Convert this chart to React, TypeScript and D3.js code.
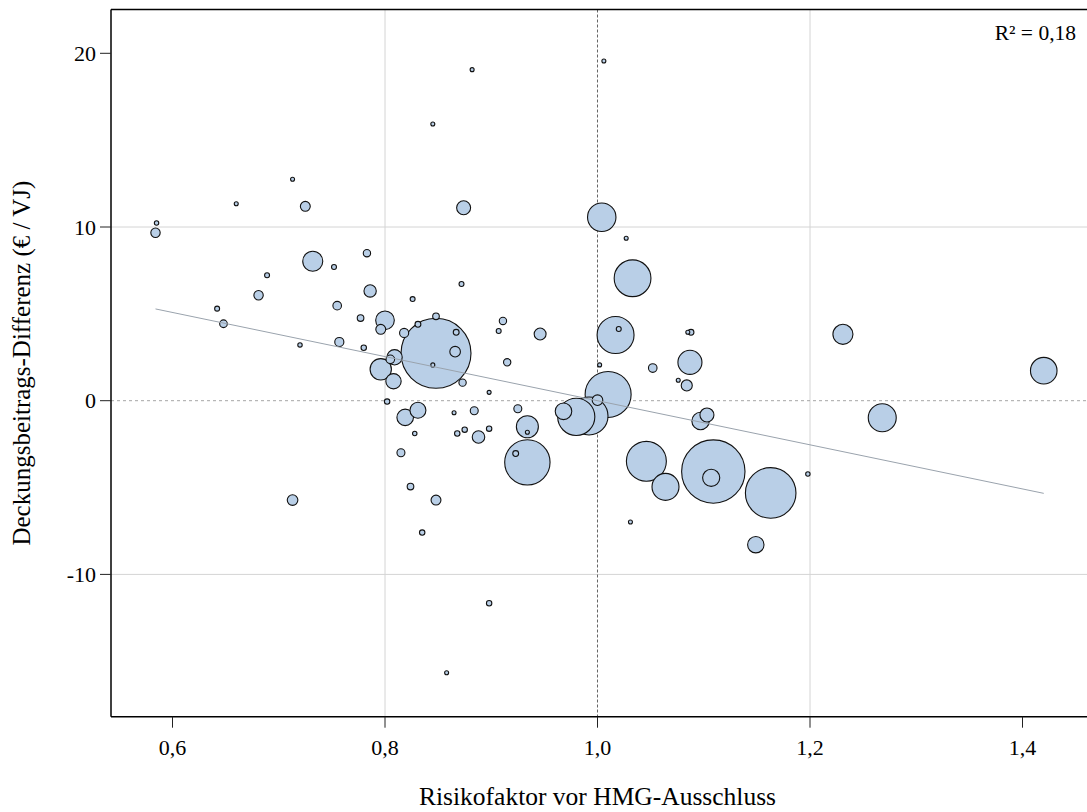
import * as d3 from 'd3'

// Risikofaktor vor HMG-Ausschluss (x), Deckungsbeitrags-Differenz €/VJ (y), bubble weight
const riskFactor = [
  0.882, 0.845, 1.006, 0.713, 0.660, 0.725, 0.874, 0.585, 0.584, 1.004,
  1.027, 1.033, 0.732, 0.783, 0.752, 0.689, 0.681, 0.786, 0.872, 0.826,
  0.642, 0.755, 0.777, 0.800, 0.796, 0.848, 0.831, 0.818, 0.848, 0.867,
  0.866, 0.845, 0.911, 0.907, 0.946, 0.915, 0.648, 0.720, 0.757, 0.780,
  0.809, 0.805, 0.796, 0.808, 0.873, 0.898, 0.802, 0.819, 0.831, 0.865,
  0.884, 0.925, 0.934, 0.934, 0.934, 0.923, 0.828, 0.868, 0.875, 0.898,
  0.888, 0.815, 0.824, 0.848, 0.835, 0.713, 0.898, 0.858, 1.017, 1.020,
  1.085, 1.088, 1.087, 1.052, 1.002, 1.076, 1.084, 1.010, 1.000, 0.968,
  0.980, 0.992, 1.046, 1.064, 1.109, 1.107, 1.163, 1.097, 1.103, 1.198,
  1.031, 1.149, 1.231, 1.268, 1.420,
]

const dbDiff = [
  19.06, 15.93, 19.56, 12.75, 11.34, 11.19, 11.11, 10.23, 9.67, 10.56,
  9.35, 7.05, 8.03, 8.49, 7.70, 7.22, 6.07, 6.32, 6.72, 5.85,
  5.30, 5.47, 4.76, 4.63, 4.11, 4.86, 4.40, 3.90, 2.73, 3.94,
  2.82, 2.06, 4.59, 4.01, 3.84, 2.21, 4.43, 3.21, 3.38, 3.05,
  2.50, 2.38, 1.81, 1.12, 1.04, 0.48, -0.05, -0.96, -0.55, -0.69,
  -0.58, -0.46, -1.50, -1.82, -3.55, -3.04, -1.89, -1.89, -1.67, -1.61,
  -2.09, -3.00, -4.94, -5.72, -7.59, -5.72, -11.66, -15.66, 3.78, 4.13,
  3.94, 3.94, 2.21, 1.88, 2.06, 1.18, 0.88, 0.36, 0.03, -0.61,
  -0.93, -0.88, -3.49, -4.96, -4.08, -4.44, -5.31, -1.17, -0.82, -4.22,
  -6.98, -8.29, 3.82, -0.98, 1.73,
]

const weight = [
  3, 3, 3, 3, 3, 20, 40, 4, 18, 165,
  3, 276, 82, 11, 5, 5, 18, 31, 5, 5,
  5, 15, 9, 71, 20, 9, 7, 17, 1000, 7,
  23, 3, 11, 5, 29, 11, 12, 4, 17, 6,
  48, 15, 93, 48, 11, 3, 6, 56, 52, 3,
  13, 13, 99, 3, 420, 7, 4, 6, 6, 6,
  32, 13, 9, 20, 6, 23, 6, 3, 279, 5,
  3, 7, 118, 15, 3, 3, 25, 432, 23, 56,
  282, 295, 326, 149, 820, 60, 522, 62, 40, 4,
  3, 55, 82, 160, 144,
]

const xTicks = [0.6, 0.8, 1.0, 1.2, 1.4]
const yTicks = [20, 10, 0, -10]
const xGrid = [0.8, 1.2]
const yGrid = [10, -10]

// fitted line y = a + b*x
const trendIntercept = 12.7
const trendSlope = -12.7
const rSquared = '0,18'

const fmt = (v: number) => v.toFixed(1).replace('.', ',')

export default function App() {
  const width = 1087
  const height = 812
  const plot = { left: 111, top: 9.5, right: 1087, bottom: 716.7 }

  const x = d3.scaleLinear().domain([0.6, 1.4]).range([172.5, 1022.5])
  const y = d3.scaleLinear().domain([-10, 20]).range([574.4, 53.3])
  const r = d3.scaleSqrt().domain([0, 1000]).range([0, 35])

  const points = riskFactor
    .map((rf, i) => ({ rf, db: dbDiff[i], w: weight[i] }))
    .sort((a, b) => b.w - a.w)

  const xs = d3.extent(riskFactor) as [number, number]
  const trend = d3.line<number>()
    .x(v => x(v))
    .y(v => y(trendIntercept + trendSlope * v))

  const font = '"Liberation Serif", "Times New Roman", serif'

  return (
    <svg
      width={width}
      height={height}
      style={{ position: 'absolute', left: 0, top: 0, background: '#fff' }}
      fontFamily={font}
    >
      <defs>
        <clipPath id="plotClip">
          <rect x={plot.left} y={plot.top} width={plot.right - plot.left} height={plot.bottom - plot.top} />
        </clipPath>
      </defs>

      {/* grid */}
      {xGrid.map(v => (
        <line key={'gx' + v} x1={x(v)} x2={x(v)} y1={plot.top} y2={plot.bottom} stroke="#d4d4d4" strokeWidth={1} />
      ))}
      {yGrid.map(v => (
        <line key={'gy' + v} x1={plot.left} x2={plot.right} y1={y(v)} y2={y(v)} stroke="#d4d4d4" strokeWidth={1} />
      ))}
      {/* reference lines */}
      <line x1={plot.left} x2={plot.right} y1={y(0)} y2={y(0)} stroke="#a6a6a6" strokeWidth={1} strokeDasharray="3,3" />
      <line x1={x(1)} x2={x(1)} y1={plot.top} y2={plot.bottom} stroke="#666" strokeWidth={1} strokeDasharray="3,2" />

      {/* bubbles */}
      <g clipPath="url(#plotClip)">
        {points.map((d, i) => (
          <circle
            key={i}
            cx={x(d.rf)}
            cy={y(d.db)}
            r={Math.max(2, r(d.w))}
            fill="#b9cfe7"
            stroke="#111"
            strokeWidth={1.1}
          />
        ))}
        <path d={trend(xs) || ''} fill="none" stroke="#9aa3ad" strokeWidth={1} />
      </g>

      {/* frame */}
      <line x1={plot.left} x2={plot.right} y1={plot.top} y2={plot.top} stroke="#000" strokeWidth={1.5} />
      <line x1={plot.left} x2={plot.left} y1={plot.top} y2={plot.bottom} stroke="#000" strokeWidth={1.5} />
      <line x1={plot.left} x2={plot.right} y1={plot.bottom} y2={plot.bottom} stroke="#000" strokeWidth={1.5} />

      {/* y axis */}
      {yTicks.map(v => (
        <g key={'yt' + v}>
          <line x1={plot.left - 11} x2={plot.left} y1={y(v)} y2={y(v)} stroke="#222" strokeWidth={1} />
          <text x={plot.left - 15} y={y(v)} dy="0.35em" textAnchor="end" fontSize={22}>{v}</text>
        </g>
      ))}
      {/* x axis */}
      {xTicks.map(v => (
        <g key={'xt' + v}>
          <line x1={x(v)} x2={x(v)} y1={plot.bottom} y2={plot.bottom + 11} stroke="#222" strokeWidth={1} />
          <text x={x(v)} y={755} textAnchor="middle" fontSize={22}>{fmt(v)}</text>
        </g>
      ))}

      <text x={x(1)} y={805} textAnchor="middle" fontSize={25.5}>Risikofaktor vor HMG-Ausschluss</text>
      <text transform={`translate(30, ${(plot.top + plot.bottom) / 2}) rotate(-90)`} textAnchor="middle" fontSize={25}>
        Deckungsbeitrags-Differenz (€ / VJ)
      </text>

      <text x={1076} y={40} textAnchor="end" fontSize={21.5}>R² = {rSquared}</text>
    </svg>
  )
}
